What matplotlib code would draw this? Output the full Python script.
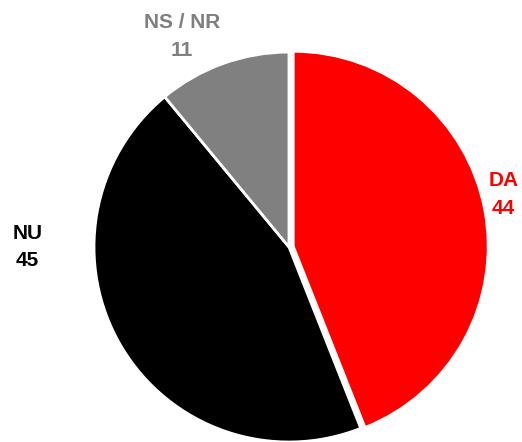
import matplotlib
matplotlib.use('Agg')
import matplotlib.pyplot as plt

# survey answers
categories = ['DA', 'NU', 'NS / NR']
values = [44, 45, 11]
colors = ['#ff0000', '#000000', '#808080']
label_colors = ['#ff0000', '#000000', '#7f7f7f']

# where the labels sit (radius units, relative to pie centre)
label_pos = [(1.10, 0.27), (-1.34, 0.0), (-0.55, 1.08)]

plt.rcParams['font.family'] = ['Liberation Sans', 'DejaVu Sans']

fig = plt.figure(figsize=(5.22, 4.42), dpi=100)
ax = fig.add_axes([0, 0, 1, 1])

wedges, _ = ax.pie(values, colors=colors, startangle=90, counterclock=False,
                   explode=[0.022, 0, 0], radius=1.0,
                   wedgeprops=dict(edgecolor='white', linewidth=2))

for cat, val, col, (x, y) in zip(categories, values, label_colors, label_pos):
    ax.text(x, y, f'{cat}\n{val}', color=col, fontsize=15, fontweight='bold',
            ha='center', va='center', linespacing=1.55)

ax.set_xlim(-1.482, 1.195)
ax.set_ylim(-1.0, 1.267)
ax.set_aspect('equal')
ax.axis('off')

fig.savefig('out.png', dpi=100)
